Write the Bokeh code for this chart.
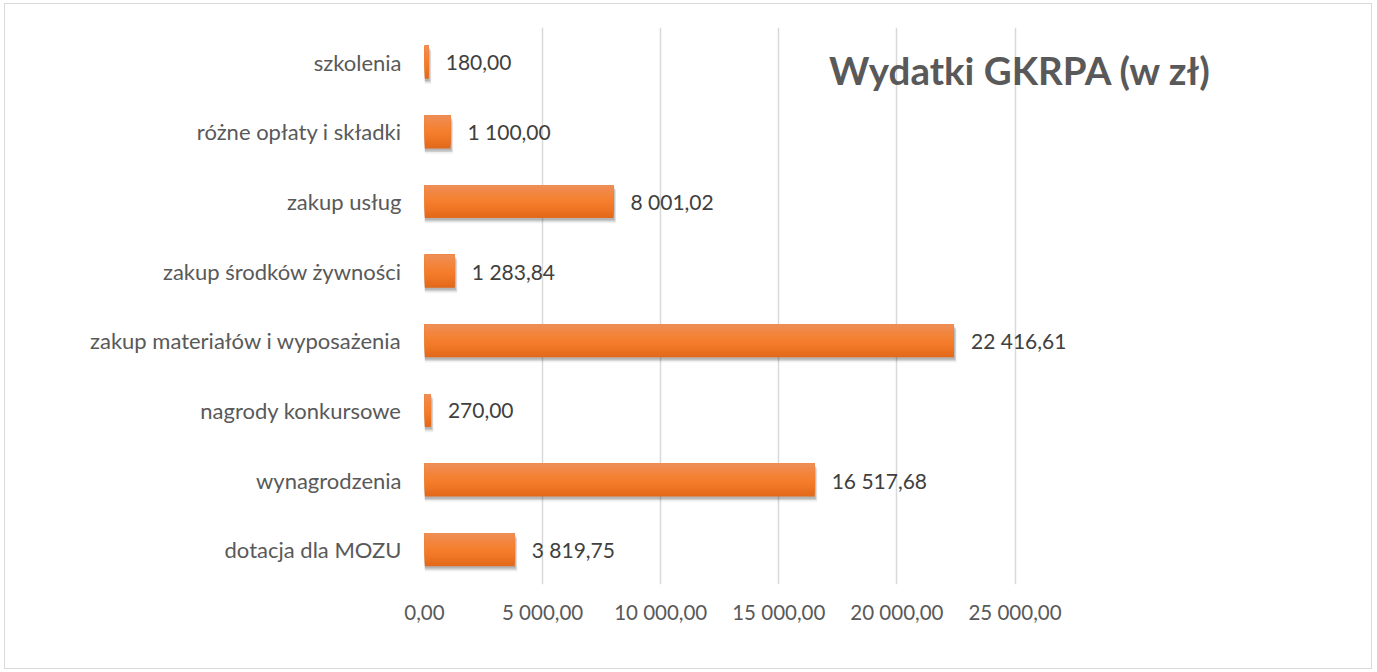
from bokeh.plotting import figure
from bokeh.models import ColumnDataSource, FactorRange, Range1d, FixedTicker
from bokeh.transform import dodge
from bokeh.core.properties import value
from bokeh.embed import file_html
from bokeh.resources import INLINE

# ---- data ----
categories = [
    "dotacja dla MOZU",
    "wynagrodzenia",
    "nagrody konkursowe",
    "zakup materiałów i wyposażenia",
    "zakup środków żywności",
    "zakup usług",
    "różne opłaty i składki",
    "szkolenia",
]
amounts = [3819.75, 16517.68, 270.00, 22416.61, 1283.84, 8001.02, 1100.00, 180.00]
tick_values = [0, 5000, 10000, 15000, 20000, 25000]
tick_labels = ["0,00", "5 000,00", "10 000,00", "15 000,00", "20 000,00", "25 000,00"]
title_text = "Wydatki GKRPA (w zł)"


def pl_fmt(v):
    return f"{v:,.2f}".replace(",", " ").replace(".", ",")


src = ColumnDataSource(dict(cat=categories, val=amounts,
                            lbl=[pl_fmt(v) for v in amounts]))

FONT = "Lato"
W, H = 1368, 666
p = figure(width=W, height=H, output_backend="svg", toolbar_location=None,
           y_range=FactorRange(*categories), x_range=Range1d(0, 39754),
           min_border_left=419, min_border_right=10, min_border_top=23,
           min_border_bottom=86)
p.styles = {"border": "1px solid #d9d9d9", "margin-left": "4px", "margin-top": "3px"}
p.outline_line_color = None
p.background_fill_color = "white"
p.border_fill_color = "white"

# grid
p.xgrid.ticker = FixedTicker(ticks=tick_values)
p.xgrid.grid_line_color = "#d9d9d9"
p.xgrid.grid_line_width = 1.5
p.ygrid.grid_line_color = None

# axes
xa = p.xaxis[0]
xa.ticker = FixedTicker(ticks=tick_values)
xa.major_label_overrides = {v: s for v, s in zip(tick_values, tick_labels)}
xa.axis_line_color = None
xa.major_tick_line_color = None
xa.minor_tick_line_color = None
xa.major_tick_out = 0
xa.major_label_standoff = 15
xa.major_label_text_font = FONT
xa.major_label_text_font_size = "20.5px"
xa.major_label_text_color = "#595959"

ya = p.yaxis[0]
ya.axis_line_color = None
ya.major_tick_line_color = None
ya.minor_tick_line_color = None
ya.major_tick_out = 0
ya.major_label_standoff = 23
ya.major_label_text_font = FONT
ya.major_label_text_font_size = "22px"
ya.major_label_text_color = "#595959"

# shadows
h = 0.474
p.hbar(y=dodge("cat", -0.075, range=p.y_range), left=0, right=dodge("val", 110),
       height=h, source=src, fill_color="#000000", fill_alpha=0.06, line_color=None)
p.hbar(y=dodge("cat", -0.05, range=p.y_range), left=0, right=dodge("val", 80),
       height=h, source=src, fill_color="#000000", fill_alpha=0.14, line_color=None)
p.hbar(y=dodge("cat", -0.03, range=p.y_range), left=0, right=dodge("val", 40),
       height=h, source=src, fill_color="#000000", fill_alpha=0.12, line_color=None)


# gradient bars (layered from bottom colour to top colour)
def hexrgb(c):
    c = c.lstrip("#")
    return tuple(int(c[i:i + 2], 16) for i in (0, 2, 4))


stops = [(0.0, "#e36a1a"), (0.45, "#f47d2b"), (0.7, "#f3843a"), (1.0, "#ef8d56")]


def color_at(t):
    for (t0, c0), (t1, c1) in zip(stops[:-1], stops[1:]):
        if t0 <= t <= t1:
            f = (t - t0) / (t1 - t0)
            a, b = hexrgb(c0), hexrgb(c1)
            return "#%02x%02x%02x" % tuple(round(a[i] + (b[i] - a[i]) * f) for i in range(3))
    return stops[-1][1]


n = 14
for k in range(n):
    hk = h - k * h / n
    off = k * h / (2 * n)
    p.hbar(y=dodge("cat", off, range=p.y_range), left=0, right="val", height=hk,
           source=src, fill_color=color_at(k / (n - 1)), line_color=None)

# value labels
p.text(x="val", y="cat", text="lbl", source=src, x_offset=17,
       text_align="left", text_baseline="middle", text_font=value(FONT),
       text_font_size="21px", text_color="#404040")

# title
p.text(x=[25230], y=[categories[-1]], text=[title_text], y_offset=8,
       text_align="center", text_baseline="middle", text_font=value(FONT),
       text_font_style="bold", text_font_size="38.5px", text_color="#595959")

open("out.html", "w").write(file_html(p, INLINE))
